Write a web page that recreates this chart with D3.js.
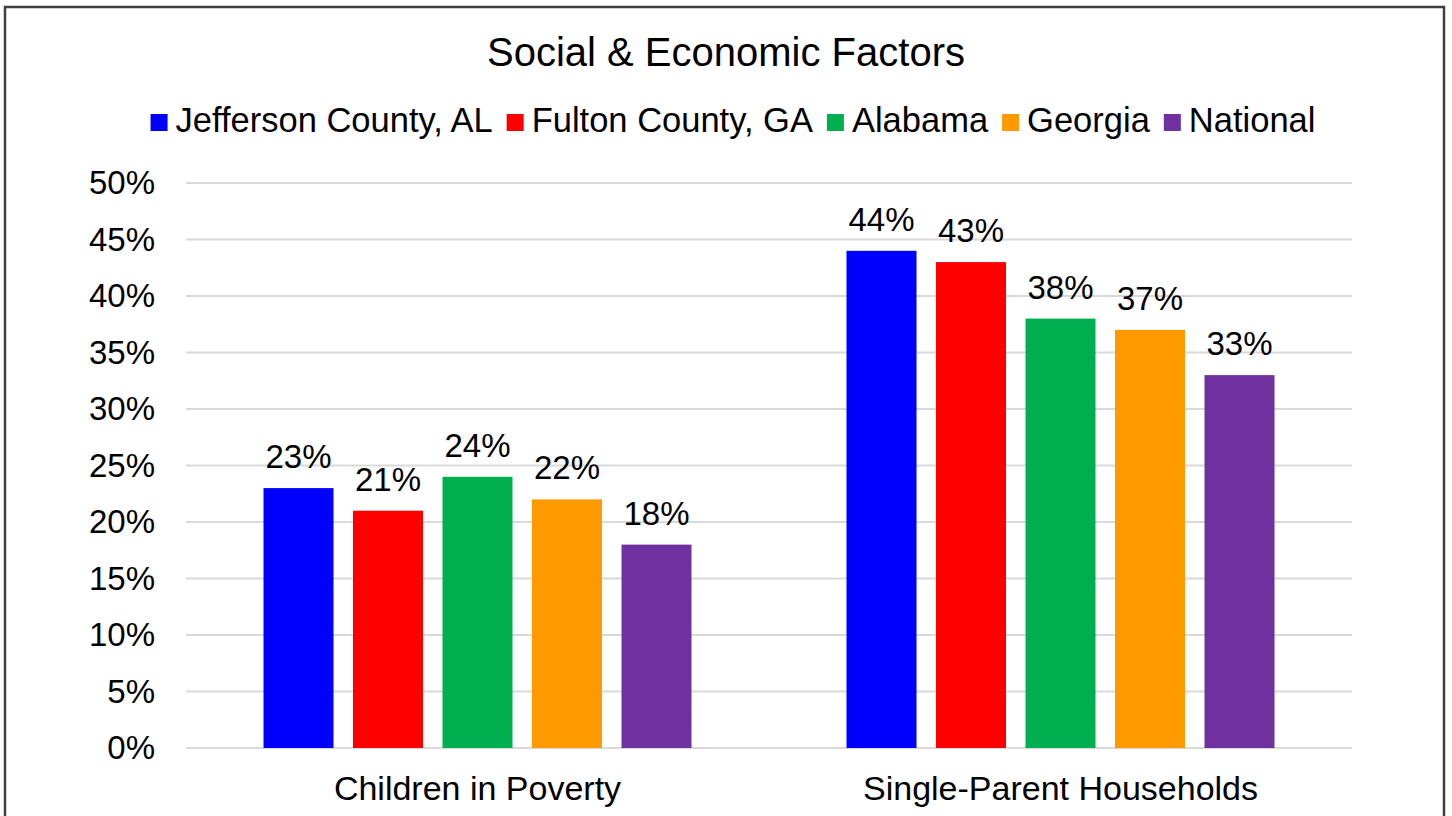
<!DOCTYPE html>
<html>
<head>
<meta charset="utf-8">
<script src="https://cdn.jsdelivr.net/npm/d3@7"></script>
<style>
  html, body { margin: 0; padding: 0; background: #fff; }
  text { font-family: "Liberation Sans", Arial, sans-serif; fill: #000; }
</style>
</head>
<body>
<div id="chart"></div>
<script>
const categories = ['Children in Poverty', 'Single-Parent Households'];
const seriesNames = ['Jefferson County, AL', 'Fulton County, GA', 'Alabama', 'Georgia', 'National'];
const seriesColors = ['#0000FF', '#FF0000', '#00B050', '#FF9900', '#7030A0'];
// values in percent, per series: [children in poverty, single-parent households]
const jefferson = [23, 44];
const fulton = [21, 43];
const alabama = [24, 38];
const georgia = [22, 37];
const national = [18, 33];
const yTicks = [0, 5, 10, 15, 20, 25, 30, 35, 40, 45, 50];

const seriesValues = [jefferson, fulton, alabama, georgia, national];

const width = 1452;
const height = 816;
const margin = { top: 183, right: 100, bottom: 68, left: 186 };

const svg = d3.select('#chart')
  .append('svg')
  .attr('width', width)
  .attr('height', height);

svg.append('rect')
  .attr('width', width)
  .attr('height', height)
  .attr('fill', '#fff');

// outer frame (bottom edge runs off the picture)
svg.append('rect')
  .attr('x', 5)
  .attr('y', 7)
  .attr('width', 1439)
  .attr('height', 850)
  .attr('fill', 'none')
  .attr('stroke', '#404040')
  .attr('stroke-width', 2.5);

const x0 = d3.scaleBand()
  .domain(categories)
  .range([margin.left, width - margin.right])
  .padding(0);

const x1 = d3.scaleBand()
  .domain(seriesNames)
  .range([0, x0.bandwidth()])
  .paddingInner(0.218)
  .paddingOuter(0.866);

const y = d3.scaleLinear()
  .domain([0, 50])
  .range([height - margin.bottom, margin.top]);

// gridlines
svg.append('g')
  .selectAll('line')
  .data(yTicks)
  .join('line')
  .attr('x1', margin.left)
  .attr('x2', width - margin.right)
  .attr('y1', d => y(d))
  .attr('y2', d => y(d))
  .attr('stroke', '#D9D9D9')
  .attr('stroke-width', 2);

// y axis labels
const yAxis = d3.axisLeft(y)
  .tickValues(yTicks)
  .tickFormat(d => d + '%')
  .tickSize(0)
  .tickPadding(31);

svg.append('g')
  .attr('transform', `translate(${margin.left},0)`)
  .call(yAxis)
  .call(g => g.select('.domain').remove())
  .selectAll('text')
  .attr('font-family', '"Liberation Sans", Arial, sans-serif')
  .attr('font-size', 33)
  .attr('fill', '#000');

// bars
const groups = svg.append('g')
  .selectAll('g')
  .data(seriesNames.map((name, i) => ({ name, color: seriesColors[i], values: seriesValues[i] })))
  .join('g')
  .attr('fill', d => d.color);

groups.selectAll('rect')
  .data(d => d.values.map((v, j) => ({ name: d.name, cat: categories[j], v })))
  .join('rect')
  .attr('x', d => x0(d.cat) + x1(d.name))
  .attr('width', x1.bandwidth())
  .attr('y', d => y(d.v))
  .attr('height', d => y(0) - y(d.v));

// data labels
groups.selectAll('text')
  .data(d => d.values.map((v, j) => ({ name: d.name, cat: categories[j], v })))
  .join('text')
  .attr('x', d => x0(d.cat) + x1(d.name) + x1.bandwidth() / 2)
  .attr('y', d => y(d.v) - 20)
  .attr('text-anchor', 'middle')
  .attr('font-size', 33)
  .text(d => d.v + '%');

// category axis
const xAxis = d3.axisBottom(x0).tickSize(0).tickPadding(0);
svg.append('g')
  .attr('transform', `translate(0,${y(0)})`)
  .call(xAxis)
  .call(g => g.select('.domain').remove())
  .selectAll('text')
  .attr('dy', null)
  .attr('y', 52)
  .attr('font-family', '"Liberation Sans", Arial, sans-serif')
  .attr('font-size', 34)
  .attr('fill', '#000');

// title
svg.append('text')
  .attr('x', 726)
  .attr('y', 66)
  .attr('text-anchor', 'middle')
  .attr('font-size', 40)
  .text('Social & Economic Factors');

// legend
const legend = svg.append('g');
const items = legend.selectAll('g')
  .data(seriesNames.map((name, i) => ({ name, color: seriesColors[i] })))
  .join('g');

items.append('rect')
  .attr('y', 114)
  .attr('width', 17)
  .attr('height', 17)
  .attr('fill', d => d.color);

items.append('text')
  .attr('x', 25)
  .attr('y', 132)
  .attr('font-size', 34.5)
  .text(d => d.name);

let offset = 0;
items.each(function () {
  const g = d3.select(this);
  g.attr('transform', `translate(${offset},0)`);
  offset += 25 + g.select('text').node().getComputedTextLength() + 14;
});
const legendWidth = offset - 14;
legend.attr('transform', `translate(${733 - legendWidth / 2},0)`);
</script>
</body>
</html>
